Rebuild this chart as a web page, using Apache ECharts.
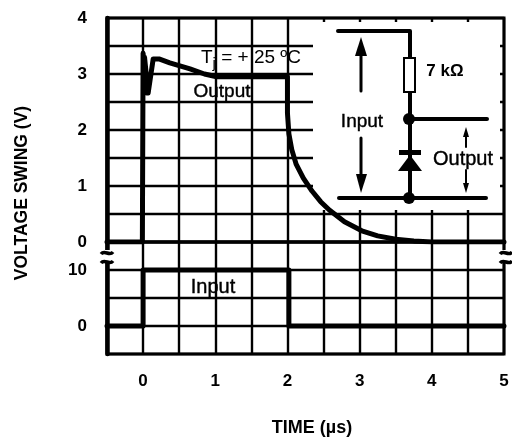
<!DOCTYPE html>
<html><head><meta charset="utf-8">
<style>html,body{margin:0;padding:0;background:#fff}#c{width:512px;height:445px}</style>
<script src="https://cdn.jsdelivr.net/npm/echarts@6/dist/echarts.min.js"></script>
</head><body><div id="c"></div>
<script>
const xTickLabels = [0, 1, 2, 3, 4, 5];
const upperTickLabels = [0, 1, 2, 3, 4];
const lowerTickLabels = [0, 10];
const outputTime = [-0.5, -0.01, 0, 0.05, 0.02, 0.07, 0.14, 0.22, 0.37, 0.65, 0.85, 1.02, 1.5, 2.0, 2.0, 2.02, 2.06, 2.12, 2.22, 2.34, 2.46, 2.58, 2.79, 3.03, 3.25, 3.5, 3.75, 4.0, 5.0];
const outputVolts = [0, 0, 3.37, 2.66, 3.3, 2.66, 3.27, 3.27, 3.2, 3.09, 3.0, 2.95, 2.95, 2.95, 2.3, 1.93, 1.65, 1.39, 1.14, 0.91, 0.72, 0.57, 0.36, 0.2, 0.11, 0.05, 0.02, 0, 0];
const inputTime = [-0.5, 0, 0, 2.02, 2.02, 5];
const inputVolts = [0, 0, 10, 10, 0, 0];

const zip = (a, b) => a.map((v, i) => [v, b[i]]);
const black = '#000';
const font = '"Liberation Sans", Arial, sans-serif';
const line = (pts, w) => ({ type: 'polyline', z: 5, shape: { points: pts }, style: { stroke: black, lineWidth: w || 3, lineCap: 'round', lineJoin: 'round', fill: null } });
const tri = (pts) => ({ type: 'polygon', z: 5, shape: { points: pts }, style: { fill: black } });
const dot = (x, y, r) => ({ type: 'circle', z: 5, shape: { cx: x, cy: y, r }, style: { fill: black } });
const txt = (s, x, y, size, weight, extra) => ({ type: 'text', z: 6, x, y, ...(extra || {}), style: { text: s, x: 0, y: 0, fill: black, stroke: black, lineWidth: weight ? 0 : 0.4, font: (weight || 'normal') + ' ' + size + 'px ' + font, textAlign: 'center', textVerticalAlign: 'middle' } });
const wave = (x, y) => ({ type: 'bezierCurve', z: 5, shape: { x1: x - 6, y1: y + 1, x2: x + 6, y2: y - 1, cpx1: x - 2, cpy1: y - 4, cpx2: x + 2, cpy2: y + 4 }, style: { stroke: black, lineWidth: 3.5, fill: null } });
const breakMark = (x) => [
  { type: 'rect', z: 4, shape: { x: x - 7, y: 250, width: 14, height: 13 }, style: { fill: '#fff' } },
  wave(x, 253), wave(x, 262)
];

const graphics = [
  { type: 'rect', z: 1, shape: { x: 313, y: 22, width: 187, height: 188 }, style: { fill: '#fff' } },
  ...breakMark(107), ...breakMark(506),
  line([[338, 31], [410, 31], [410, 58]], 4),
  line([[410, 92], [410, 198]], 4),
  { type: 'rect', z: 5, shape: { x: 404, y: 58, width: 11, height: 34 }, style: { fill: '#fff', stroke: black, lineWidth: 2 } },
  dot(409, 119, 6), line([[410, 119], [487, 119]], 4),
  line([[339, 198], [486, 198]], 4), dot(409, 198, 6),
  { type: 'rect', z: 5, shape: { x: 399, y: 150, width: 22, height: 5 }, style: { fill: black } },
  tri([[410, 155], [398, 171], [422, 171]]),
  line([[361, 50], [361, 91]], 3), tri([[361, 37], [355, 56], [367, 56]]),
  line([[361, 138], [361, 178]], 3), tri([[361, 193], [356, 174], [367, 174]]),
  line([[466, 132], [466, 147]], 2), tri([[466, 127], [463, 137], [469, 137]]),
  line([[466, 170], [466, 187]], 2), tri([[466, 193], [463, 183], [469, 183]]),
  txt('7 kΩ', 445, 71, 17, 'bold'),
  txt('Input', 362, 122, 19),
  txt('Output', 463, 159, 20),
  txt('Output', 222, 92, 19),
  txt('Input', 213, 287, 20),
  { type: 'text', z: 6, x: 251, y: 58, style: { text: '{a|T}{b|j}{a| = + 25 ºC}', x: 0, y: 0, fill: black, textAlign: 'center', textVerticalAlign: 'middle', rich: { a: { font: '19px ' + font, fill: black }, b: { font: '15px ' + font, fill: black, verticalAlign: 'bottom', padding: [12, 0, 0, 0] } } } },
  txt('VOLTAGE SWING (V)', 22, 193, 17.5, 'bold', { rotation: Math.PI / 2 }),
  txt('TIME (µs)', 312, 428, 18, 'bold')
];

const lineSeries = (data, idx, w) => ({ type: 'line', xAxisIndex: idx, yAxisIndex: idx, data, symbol: 'none', z: 3, silent: true, lineStyle: { color: black, width: w, join: 'round', cap: 'round' } });
const splitStyle = { show: true, lineStyle: { color: black, width: 2.4, type: 'solid' } };
const labelStyle = { color: black, fontFamily: font, fontWeight: 'bold', fontSize: 17 };

const chart = echarts.init(document.getElementById('c'), null, { renderer: 'canvas' });
chart.setOption({
  animation: false,
  backgroundColor: '#fff',
  grid: [
    { left: 107, width: 397, top: 18, height: 224, show: true, borderColor: black, borderWidth: 3, backgroundColor: 'transparent' },
    { left: 107, width: 397, top: 242, height: 112, show: true, borderColor: black, borderWidth: 3, backgroundColor: 'transparent' }
  ],
  xAxis: [
    { type: 'value', gridIndex: 0, min: -0.5, max: 5, interval: 0.5, axisLabel: { show: false }, axisTick: { show: false }, axisLine: { show: false }, splitLine: splitStyle },
    { type: 'value', gridIndex: 1, min: -0.5, max: 5, interval: 0.5, axisTick: { show: false }, axisLine: { show: false }, splitLine: splitStyle,
      axisLabel: { ...labelStyle, margin: 19, showMinLabel: true, showMaxLabel: true, customValues: xTickLabels } }
  ],
  yAxis: [
    { type: 'value', gridIndex: 0, min: 0, max: 4, interval: 0.5, axisTick: { show: false }, splitLine: splitStyle,
      axisLine: { show: true, onZero: false, lineStyle: { color: black, width: 4.5 } },
      axisLabel: { ...labelStyle, margin: 20, customValues: upperTickLabels } },
    { type: 'value', gridIndex: 1, min: -5, max: 15, interval: 5, axisTick: { show: false }, splitLine: splitStyle,
      axisLine: { show: true, onZero: false, lineStyle: { color: black, width: 4.5 } },
      axisLabel: { ...labelStyle, margin: 20, customValues: lowerTickLabels } }
  ],
  series: [
    lineSeries(zip(outputTime, outputVolts), 0, 5),
    lineSeries(zip(inputTime, inputVolts), 1, 5)
  ],
  graphic: { elements: graphics }
});
</script></body></html>
